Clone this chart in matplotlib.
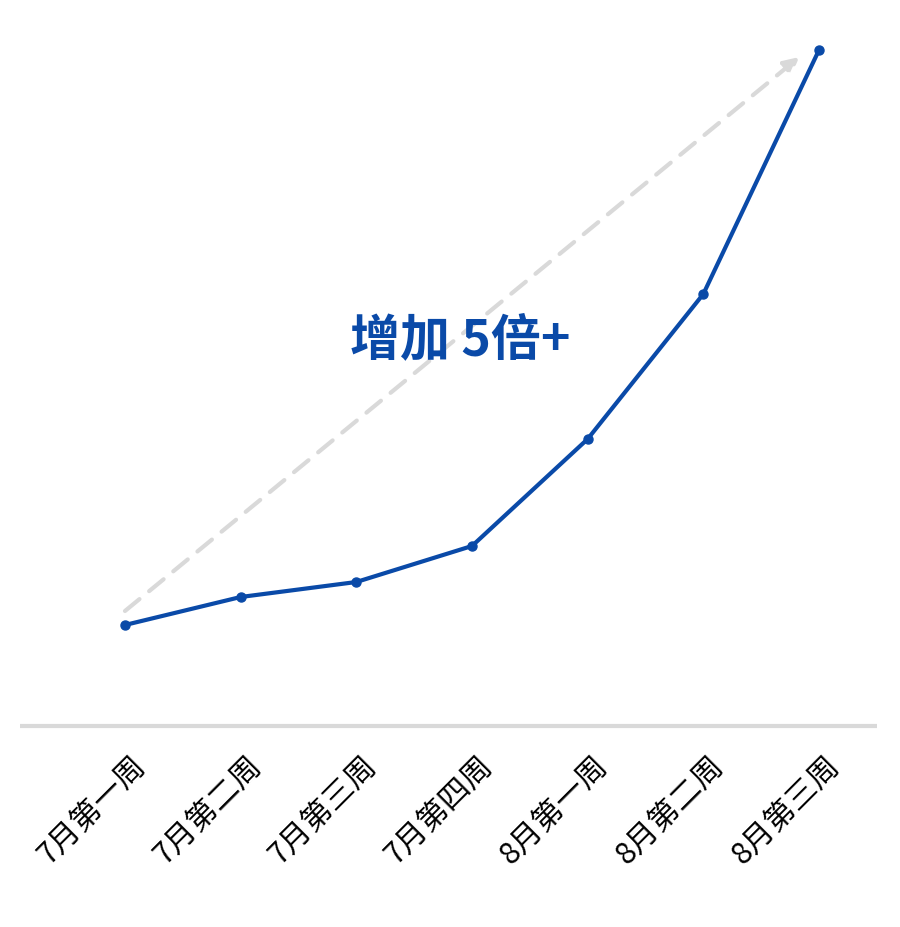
import matplotlib.pyplot as plt
import matplotlib.transforms as mtransforms

plt.rcParams['font.family'] = ['Noto Sans CJK SC', 'DejaVu Sans']

# 数据
weeks = ["7月第一周", "7月第二周", "7月第三周", "7月第四周", "8月第一周", "8月第二周", "8月第三周"]
values = [101, 129, 144, 180, 287, 432, 676]
note = "增加 5倍+"

blue = "#0a4aa8"
grey = "#d9d9d9"

fig = plt.figure(figsize=(9, 9.28), dpi=100)
ax = fig.add_axes([20 / 900, 201 / 928, 857 / 900, 707 / 928])

x = list(range(len(weeks)))
ax.plot(x, values, color=blue, lw=3, marker="o", markersize=6.5, zorder=3, clip_on=False)

# 虚线箭头
ax.annotate("", xy=(5.83, values[-1] - 7), xytext=(0, values[0] + 14),
            arrowprops=dict(arrowstyle="-|>,head_length=0.9,head_width=0.45", color=grey, lw=3,
                            linestyle=(0, (4.5, 3)), shrinkA=0, shrinkB=0), zorder=1)

ax.text(2.9, 386, note, color=blue, fontsize=36, fontweight="bold", ha="center", va="center", zorder=4)

ax.set_xlim(-105 / 115.7, 6 + 58 / 115.7)
ax.set_ylim(0, 707)

for s in ["top", "right", "left"]:
    ax.spines[s].set_visible(False)
ax.spines["bottom"].set_color(grey)
ax.spines["bottom"].set_linewidth(3)
ax.spines["bottom"].set_capstyle("butt")
ax.set_yticks([])
ax.set_xticks(x)
ax.tick_params(axis="x", length=0, pad=25)
ax.set_xticklabels(weeks, rotation=45, ha="right", va="center", rotation_mode="anchor", fontsize=22)
offset = mtransforms.ScaledTranslation(16 / 100, 0, fig.dpi_scale_trans)
for lab in ax.get_xticklabels():
    lab.set_transform(lab.get_transform() + offset)

fig.savefig("out.png", dpi=100, facecolor="white")
